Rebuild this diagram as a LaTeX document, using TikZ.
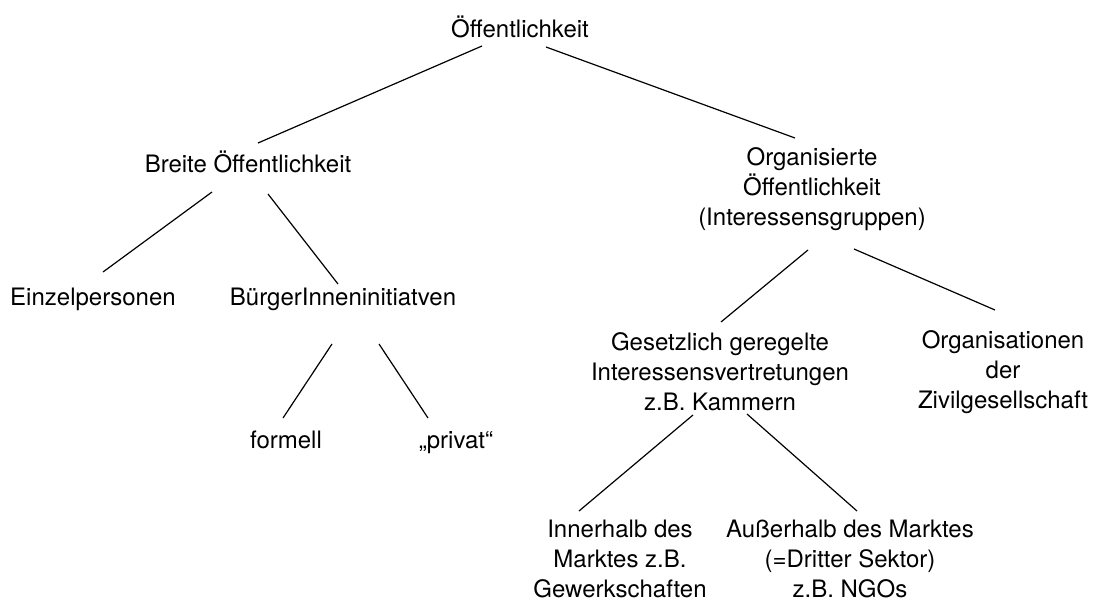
\documentclass[tikz,border=0pt]{standalone}
\usepackage{fontspec}
\setmainfont{TeX Gyre Heros}

\begin{document}
\begin{tikzpicture}[x=1pt,y=-1pt,
  lbl/.style={font=\fontsize{24}{30}\selectfont, inner sep=0pt, align=center},
  edge/.style={black, line width=1.2pt}]
\useasboundingbox (0,0) rectangle (1112,603);
% nodes
\node[lbl, anchor=base] (oeff)    at (520,37)  {Öffentlichkeit};
\node[lbl, anchor=base] (breite)  at (248,172) {Breite Öffentlichkeit};
\node[lbl]              (org)     at (812,189) {Organisierte\\Öffentlichkeit\\(Interessensgruppen)};
\node[lbl, anchor=base] (einzel)  at (93,305)  {Einzelpersonen};
\node[lbl, anchor=base] (buerger) at (343,305) {BürgerInneninitiatven};
\node[lbl, anchor=base] (formell) at (286,448) {formell};
\node[lbl, anchor=base] (privat)  at (456,448) {„privat“};
\node[lbl]              (gesetz)  at (720,372) {Gesetzlich geregelte\\Interessensvertretungen\\z.B. Kammern};
\node[lbl]              (zivil)   at (1003,372) {Organisationen\\der\\Zivilgesellschaft};
\node[lbl]              (inner)   at (620,559) {Innerhalb des\\Marktes z.B.\\Gewerkschaften};
\node[lbl]              (ausser)  at (850,559) {Außerhalb des Marktes\\(=Dritter Sektor)\\z.B. NGOs};
% connectors
\draw[edge] ([shift={(-38,9)}]oeff.base)     -- ([shift={(10,-29)}]breite.base);
\draw[edge] ([shift={(26,10)}]oeff.base)     -- ([shift={(-17,-51)}]org.center);
\draw[edge] ([shift={(-36,20)}]breite.base)  -- ([shift={(10,-33)}]einzel.base);
\draw[edge] ([shift={(20,22)}]breite.base)   -- ([shift={(-5,-21)}]buerger.base);
\draw[edge] ([shift={(-11,39)}]buerger.base) -- ([shift={(-3,-30)}]formell.base);
\draw[edge] ([shift={(36,39)}]buerger.base)  -- ([shift={(-28,-30)}]privat.base);
\draw[edge] ([shift={(-4,61)}]org.center)    -- ([shift={(1,-50)}]gesetz.center);
\draw[edge] ([shift={(42,60)}]org.center)    -- ([shift={(-8,-62)}]zivil.center);
\draw[edge] ([shift={(-27,43)}]gesetz.center) -- ([shift={(-41,-48)}]inner.center);
\draw[edge] ([shift={(27,42)}]gesetz.center)  -- ([shift={(7,-48)}]ausser.center);
\end{tikzpicture}
\end{document}
